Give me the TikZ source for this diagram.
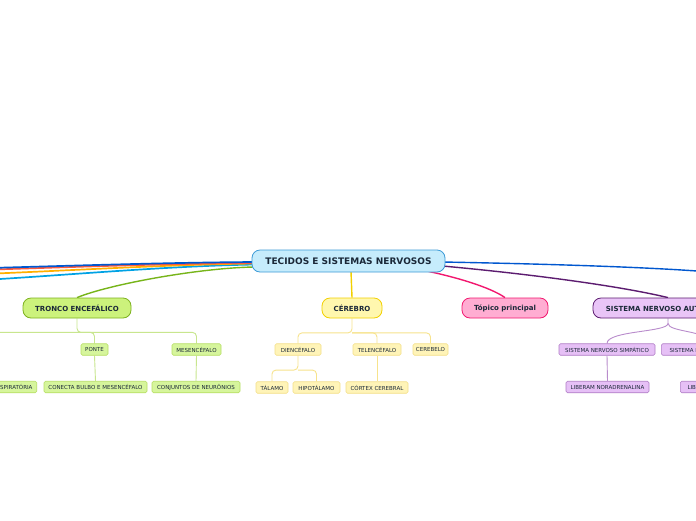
\documentclass[tikz,border=0pt]{standalone}
\usepackage{fontspec}
\setmainfont{DejaVu Sans}
\usetikzlibrary{backgrounds,calc}
\definecolor{txt}{HTML}{1A2838}
\definecolor{cfill}{HTML}{C6ECFC}
\definecolor{cdraw}{HTML}{3D9BD7}
\definecolor{gfill}{HTML}{CCF27C}
\definecolor{gdraw}{HTML}{7DB21E}
\definecolor{gsfill}{HTML}{D6F59C}
\definecolor{gsdraw}{HTML}{B6DE62}
\definecolor{gline}{HTML}{77B51A}
\definecolor{gtreec}{HTML}{C8E68E}
\definecolor{yfill}{HTML}{FFF7AE}
\definecolor{ydraw}{HTML}{F2D000}
\definecolor{ysfill}{HTML}{FFF4B8}
\definecolor{ysdraw}{HTML}{F3DF88}
\definecolor{ytreec}{HTML}{F7E38C}
\definecolor{pkfill}{HTML}{FFADD2}
\definecolor{pkdraw}{HTML}{F2186F}
\definecolor{pufill}{HTML}{E9C5F7}
\definecolor{pudraw}{HTML}{5C1C70}
\definecolor{pusfill}{HTML}{E6C0F6}
\definecolor{pusdraw}{HTML}{B07CC6}
\definecolor{putreec}{HTML}{B98CCC}
\definecolor{lblue}{HTML}{0057CF}
\definecolor{lred}{HTML}{FF5A3C}
\definecolor{lorange}{HTML}{FFB000}
\definecolor{lcyan}{HTML}{00A2E4}
\begin{document}
\begin{tikzpicture}[x=1pt,y=-1pt,
  mainnode/.style={draw, line width=0.8pt, rounded corners=8pt, inner sep=0pt,
    minimum height=20pt, font=\fontsize{7}{8}\selectfont\bfseries, text=txt},
  subnode/.style={draw, line width=0.6pt, rounded corners=1.5pt, inner sep=0pt,
    minimum height=11.5pt, font=\fontsize{5.5}{6}\selectfont, text=txt},
  gsub/.style={subnode, fill=gsfill, draw=gsdraw},
  ysub/.style={subnode, fill=ysfill, draw=ysdraw},
  psub/.style={subnode, fill=pusfill, draw=pusdraw},
  conn/.style={line width=1.4pt},
  lconn/.style={line width=1.7pt},
  gtree/.style={draw=gtreec, line width=0.9pt, rounded corners=4pt},
  ytree/.style={draw=ytreec, line width=0.9pt, rounded corners=4pt},
  ptree/.style={draw=putreec, line width=0.9pt}]
\useasboundingbox (0,0) rectangle (696,520);

% main nodes
\node[mainnode, fill=cfill, draw=cdraw, minimum width=193pt, minimum height=22pt,
  font=\fontsize{9}{10}\selectfont\bfseries] (central) at (348.5,261) {TECIDOS E SISTEMAS NERVOSOS};
\node[mainnode, fill=gfill, draw=gdraw, minimum width=108pt] (tronco) at (77,308) {TRONCO ENCEFÁLICO};
\node[mainnode, fill=yfill, draw=ydraw, minimum width=60pt] (cerebro) at (352,308) {CÉREBRO};
\node[mainnode, fill=pkfill, draw=pkdraw, minimum width=86pt] (topico) at (505,308) {Tópico principal};
\node[mainnode, fill=pufill, draw=pudraw, minimum width=150pt] (sna) at (668,308) {SISTEMA NERVOSO AUTÔNOMO};

% green subnodes
\node[gsub, minimum width=27pt] (ponte) at (94.5,349.5) {PONTE};
\node[gsub, minimum width=49pt] (mesen) at (196.5,349.5) {MESENCÉFALO};
\node[gsub, minimum width=103pt] (conecta) at (95.5,387) {CONECTA BULBO E MESENCÉFALO};
\node[gsub, minimum width=88pt] (conjuntos) at (196,387) {CONJUNTOS DE NEURÔNIOS};
\node[gsub, minimum width=48pt, anchor=east] (resp) at (37,387) {RESPIRATÓRIA};
\coordinate (bulbo) at (-30,344);

% yellow subnodes
\node[ysub, minimum width=46pt] (dienc) at (298,349.5) {DIENCÉFALO};
\node[ysub, minimum width=48pt] (telenc) at (377,349.5) {TELENCÉFALO};
\node[ysub, minimum width=35pt] (cerebelo) at (430.5,349.5) {CEREBELO};
\node[ysub, minimum width=32pt] (talamo) at (272,387.5) {TÁLAMO};
\node[ysub, minimum width=47pt] (hipot) at (316.5,387.5) {HIPOTÁLAMO};
\node[ysub, minimum width=62pt] (cortex) at (377,387.5) {CÓRTEX CEREBRAL};

% purple subnodes
\node[psub, minimum width=96pt] (simp) at (607,349.5) {SISTEMA NERVOSO SIMPÁTICO};
\node[psub, minimum width=118pt, anchor=west] (parassimp) at (661,349.5) {SISTEMA NERVOSO PARASSIMPÁTICO};
\node[psub, minimum width=83pt] (nora) at (607.5,387) {LIBERAM NORADRENALINA};
\node[psub, minimum width=80pt, anchor=west] (acetil) at (680,387) {LIBERAM ACETILCOLINA};

% free ends
\coordinate (eblue) at (0,267.7);
\coordinate (ered) at (0,269.3);
\coordinate (eorange) at (0,273.3);
\coordinate (ecyan) at (0,279);
\coordinate (eright) at (697,271);

\begin{scope}[on background layer]
  \fill[white] (0,0) rectangle (696,520);
  % left off-page branches
  \draw[lconn, lcyan] ([shift={(4,3.5)}]central.west) .. controls (170,266) and (80,274) .. (ecyan);
  \draw[lconn, lorange] ([shift={(4,2.5)}]central.west) .. controls (170,264.5) and (80,270) .. (eorange);
  \draw[lconn, lred] ([shift={(4,2)}]central.west) .. controls (170,263.5) and (80,266.8) .. (ered);
  \draw[lconn, lblue] ([shift={(4,1)}]central.west) .. controls (170,262.5) and (80,265.5) .. (eblue);
  % main connectors
  \draw[conn, gline] ([shift={(2,6)}]central.west) .. controls (200,268) and (110,284) .. (tronco.north);
  \draw[conn, ydraw] ([shift={(2.5,-1)}]central.south) -- (cerebro.north);
  \draw[conn, pkdraw] ([shift={(-17,-1)}]central.south east) .. controls (455,277) and (490,287) .. (topico.north);
  \draw[conn, pudraw] ([shift={(-3,5)}]central.east) .. controls (530,274) and (620,286) .. (sna.north);
  \draw[conn, lblue] ([shift={(-3,1)}]central.east) .. controls (550,264) and (640,267) .. (eright);
  % green tree
  \coordinate (gfork) at ($(tronco.south)+(0,14)$);
  \draw[gtree] (tronco.south) -- (gfork) -| (ponte.north);
  \draw[gtree] (gfork) -| (mesen.north);
  \draw[gtree] (gfork) -| (bulbo);
  \draw[gtree] (ponte.south) -- (conecta.north);
  \draw[gtree] (mesen.south) -- (conjuntos.north);
  % yellow tree
  \coordinate (yfork) at ($(cerebro.south)+(0,14.5)$);
  \draw[ytree] (cerebro.south) -- (yfork) -| (dienc.north);
  \draw[ytree] (yfork) -| (telenc.north);
  \draw[ytree] (yfork) -| (cerebelo.north);
  \coordinate (dfork) at ($(dienc.south)+(0,14.5)$);
  \draw[ytree] (dienc.south) -- (dfork) -| (talamo.north);
  \draw[ytree] (dfork) -| (hipot.north);
  \draw[ytree] (telenc.south) -- (cortex.north);
  % purple tree
  \coordinate (pfork) at ($(sna.south)+(0,5)$);
  \draw[ptree] (sna.south) -- (pfork) .. controls +(0,9) and +(0,-13) .. (simp.north);
  \draw[ptree] (pfork) .. controls +(0,9) and +(0,-13) .. ([xshift=-10]parassimp.north);
  \draw[ptree] (simp.south) -- (nora.north);
  \draw[ptree] ([xshift=-10]parassimp.south) -- ([xshift=-1]acetil.north);
\end{scope}
\end{tikzpicture}
\end{document}
